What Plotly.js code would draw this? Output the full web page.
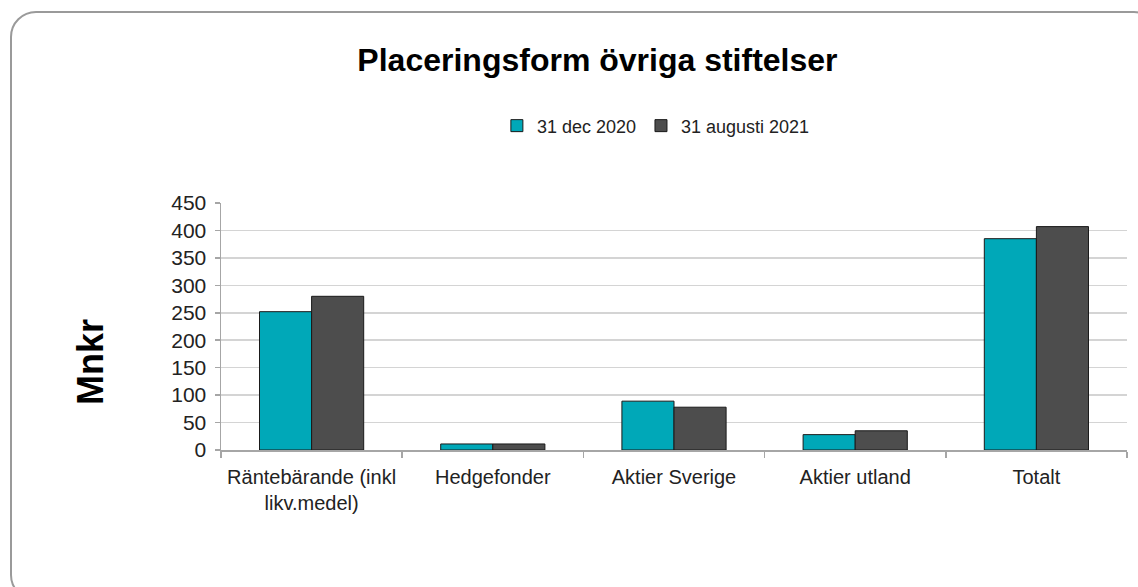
<!DOCTYPE html>
<html>
<head>
<meta charset="utf-8">
<script src="https://cdn.plot.ly/plotly-3.0.1.min.js"></script>
<style>
  html, body { margin: 0; padding: 0; width: 1138px; height: 587px; overflow: hidden; background: #ffffff; }
  #frame { position: absolute; left: 10px; top: 11px; width: 1150px; height: 590px; border: 2px solid #9a9a9a; border-radius: 26px; box-sizing: border-box; }
  #chart { position: absolute; left: 0; top: 0; width: 1138px; height: 587px; }
</style>
</head>
<body>
<div id="frame"></div>
<div id="chart"></div>
<script>
const categories = ["Räntebärande (inkl<br>likv.medel)", "Hedgefonder", "Aktier Sverige", "Aktier utland", "Totalt"];
const seriesNames = ["31 dec 2020", "31 augusti 2021"];
const dec2020 = [252, 11, 89, 28, 385];
const aug2021 = [280, 11, 78, 35, 407];
const yTicks = [0, 50, 100, 150, 200, 250, 300, 350, 400, 450];

const font = "Liberation Sans, Arial, sans-serif";
const traces = [
  { type: "bar", name: seriesNames[0], x: categories, y: dec2020,
    marker: { color: "#00A8B8", line: { color: "#1a1a1a", width: 1 } } },
  { type: "bar", name: seriesNames[1], x: categories, y: aug2021,
    marker: { color: "#4D4D4D", line: { color: "#1a1a1a", width: 1 } } }
];

const layout = {
  width: 1138, height: 587,
  margin: { l: 221, r: 11, t: 203, b: 137, pad: 0 },
  paper_bgcolor: "rgba(0,0,0,0)", plot_bgcolor: "rgba(0,0,0,0)",
  font: { family: font, color: "#222222", size: 18 },
  title: { text: "<b>Placeringsform övriga stiftelser</b>", x: 0.525, xanchor: "center", y: 0.898, yanchor: "middle",
           font: { family: font, size: 32, color: "#000000" } },
  barmode: "group", bargap: 0.425, bargroupgap: 0,
  showlegend: true,
  legend: { orientation: "h", x: 0.48, xanchor: "center", y: 1.312, yanchor: "middle",
            font: { family: font, size: 18, color: "#222222" }, itemwidth: 30, traceorder: "normal" },
  xaxis: { type: "category", showline: true, linecolor: "#a6a6a6", linewidth: 1.5,
           ticks: "outside", tickson: "boundaries", ticklen: 6, tickcolor: "#a6a6a6", tickwidth: 1.5,
           ticklabelstandoff: 8,
           showgrid: false, tickfont: { family: font, size: 20, color: "#222222" }, fixedrange: true },
  yaxis: { range: [0, 450], tickvals: yTicks, showgrid: true, gridcolor: "#d4d4d4", gridwidth: 1.5,
           zeroline: false, showline: true, linecolor: "#a6a6a6", linewidth: 1.5,
           ticks: "outside", ticklen: 5, tickcolor: "#a6a6a6", tickwidth: 1.5,
           ticklabelstandoff: 4,
           tickfont: { family: font, size: 21, color: "#222222" }, fixedrange: true },
  annotations: [
    { text: "<b>Mnkr</b>", xref: "paper", yref: "paper", x: (90 - 221) / 906, y: (450 - 362) / 247,
      xanchor: "center", yanchor: "middle", textangle: -90, showarrow: false,
      font: { family: font, size: 36, color: "#000000" } }
  ]
};

Plotly.newPlot("chart", traces, layout, { staticPlot: true, displayModeBar: false });
</script>
</body>
</html>
